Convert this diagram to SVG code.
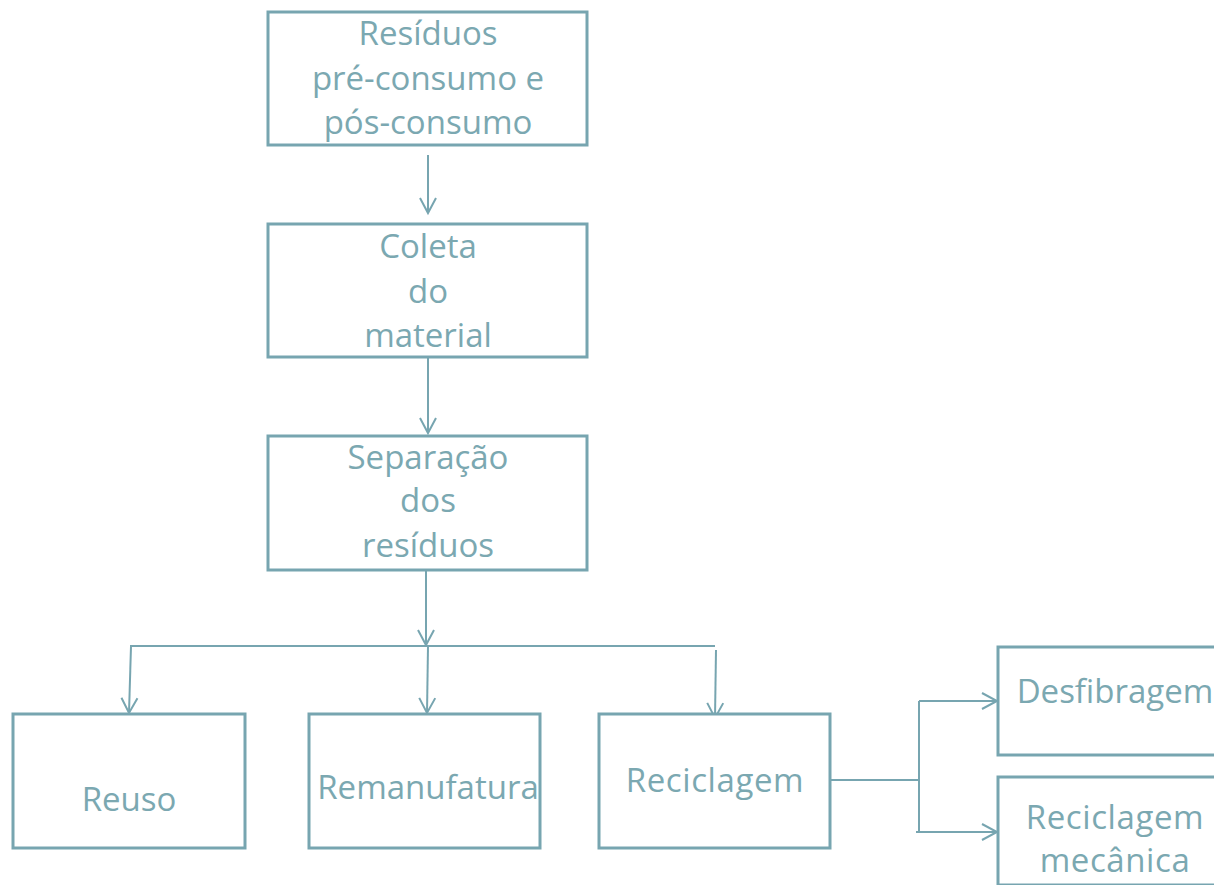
<svg xmlns="http://www.w3.org/2000/svg" width="1214" height="885" viewBox="0 0 1214 885">
<defs>
<style>
.box{fill:#ffffff;stroke:#77A5B0;stroke-width:3}
.t{font-family:"Open Sans","Noto Sans",sans-serif;font-size:33px;fill:#7BA8B1;text-anchor:middle}
.w{letter-spacing:0.6px}
.c{fill:none;stroke:#77A5B0;stroke-width:2}
</style>
<marker id="a" markerWidth="20" markerHeight="20" refX="17" refY="10" orient="auto" markerUnits="userSpaceOnUse">
<path d="M2,2 L17,10 L2,18" fill="none" stroke="#77A5B0" stroke-width="2"/>
</marker>
</defs>
<rect width="1214" height="885" fill="#ffffff"/>
<g id="connectors">
<line class="c" x1="428" y1="155" x2="428" y2="213" marker-end="url(#a)"/>
<line class="c" x1="428" y1="357" x2="428" y2="433" marker-end="url(#a)"/>
<line class="c" x1="426" y1="570" x2="426" y2="645" marker-end="url(#a)"/>
<line class="c" x1="130" y1="646" x2="715" y2="646"/>
<line class="c" x1="131" y1="646" x2="129" y2="713" marker-end="url(#a)"/>
<line class="c" x1="428" y1="646" x2="427" y2="713" marker-end="url(#a)"/>
<line class="c" x1="716" y1="650" x2="715" y2="718" marker-end="url(#a)"/>
<polyline class="c" points="830,780 919,780"/>
<line class="c" x1="919" y1="701" x2="919" y2="832"/>
<line class="c" x1="919" y1="701" x2="997" y2="701" marker-end="url(#a)"/>
<line class="c" x1="916" y1="832" x2="997" y2="832" marker-end="url(#a)"/>
</g>
<g id="n1"><rect class="box" x="268" y="12" width="319" height="133"/>
<text class="t" x="428" y="45">Resíduos</text><text class="t" x="428" y="90">pré-consumo e</text><text class="t" x="428" y="134">pós-consumo</text></g>
<g id="n2"><rect class="box" x="268" y="224" width="319" height="133"/>
<text class="t" x="428" y="258">Coleta</text><text class="t" x="428" y="303">do</text><text class="t" x="428" y="347">material</text></g>
<g id="n3"><rect class="box" x="268" y="436" width="319" height="134"/>
<text class="t" x="428" y="469">Separação</text><text class="t" x="428" y="512">dos</text><text class="t" x="428" y="557">resíduos</text></g>
<g id="n4"><rect class="box" x="13" y="714" width="232" height="134"/>
<text class="t" x="129" y="811">Reuso</text></g>
<g id="n5"><rect class="box" x="309" y="714" width="231" height="134"/>
<text class="t" x="428" y="799">Remanufatura</text></g>
<g id="n6"><rect class="box" x="599" y="714" width="231" height="134"/>
<text class="t w" x="715" y="792">Reciclagem</text></g>
<g id="n7"><rect class="box" x="998" y="647" width="240" height="108"/>
<text class="t" x="1115" y="703">Desfibragem</text></g>
<g id="n8"><rect class="box" x="998" y="777" width="240" height="108"/>
<text class="t w" x="1115" y="829">Reciclagem</text><text class="t w" x="1115" y="872">mecânica</text></g>
</svg>
